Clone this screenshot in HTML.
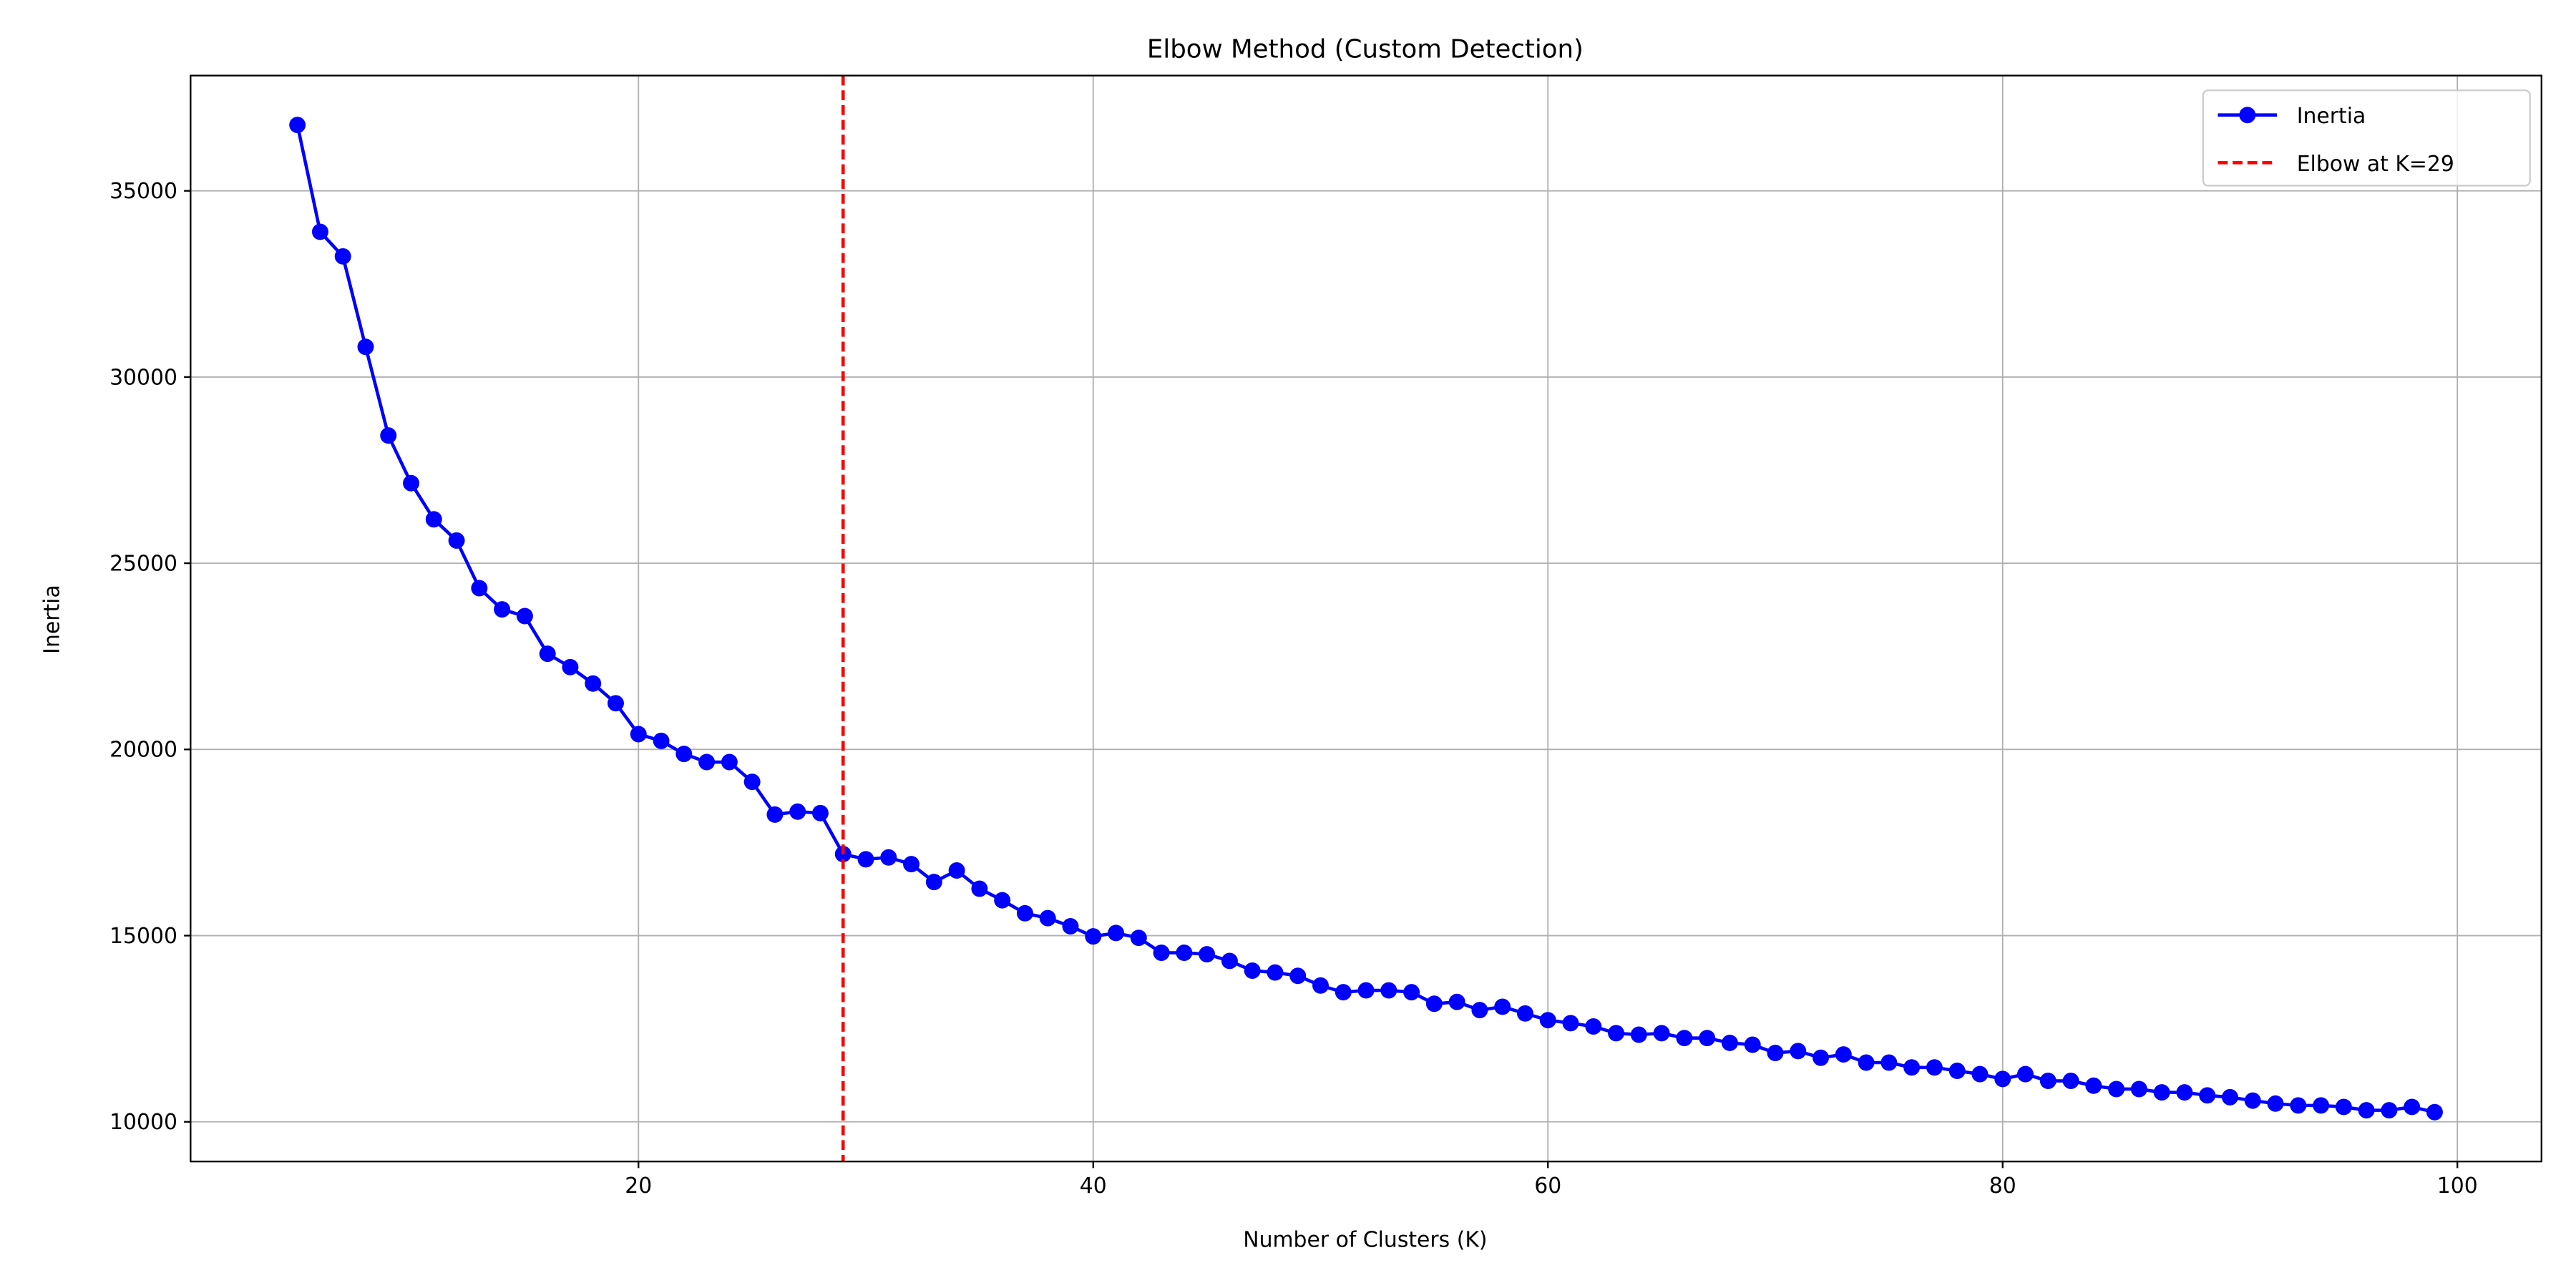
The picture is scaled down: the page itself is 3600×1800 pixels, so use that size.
<!DOCTYPE html>
<html><head><meta charset="utf-8"><style>
html,body{margin:0;padding:0;background:#fff;}
svg{display:block;font-family:"DejaVu Sans","Liberation Sans",sans-serif;}
</style></head><body>
<svg id="chart" width="3600" height="1800" viewBox="0 0 1568 784" xmlns="http://www.w3.org/2000/svg">
<rect width="1568" height="784" fill="#fff"/>
<g id="grid"></g>
<g id="series"></g>
<rect x="116" y="46" width="1431" height="661" fill="none" stroke="#000" stroke-width="1"/>
<g id="ticks"></g>
<text x="831" y="35" font-size="15.5" text-anchor="middle">Elbow Method (Custom Detection)</text>
<text x="831" y="759" font-size="13" text-anchor="middle">Number of Clusters (K)</text>
<text transform="translate(36,377) rotate(-90)" font-size="13" text-anchor="middle">Inertia</text>
<g>
<rect x="1341" y="55" width="199" height="58" rx="3" fill="#fff" fill-opacity="0.8" stroke="#ccc"/>
<g>
<line x1="1350" y1="70" x2="1386" y2="70" stroke="#0000ff" stroke-width="2"/>
<circle cx="1368" cy="70" r="5" fill="#0000ff"/>
<text x="1398" y="75" font-size="13">Inertia</text></g>
<g>
<line x1="1350" y1="99" x2="1386" y2="99" stroke="#ff0000" stroke-width="2" stroke-dasharray="6,3"/>
<text x="1398" y="104" font-size="13">Elbow at K=29</text></g>
</g>
</svg>
<script>
const kValues = [];
for (let k = 5; k <= 99; k++) kValues.push(k);
const inertia = [36770,33900,33240,30810,28430,27150,26180,25610,24330,23760,23580,22570,22210,21770,21240,20410,20230,19880,19660,19660,19130,18250,18330,18290,17190,17050,17100,16920,16440,16750,16260,15950,15600,15470,15250,14980,15070,14940,14540,14540,14500,14320,14060,14010,13920,13660,13480,13530,13530,13480,13170,13220,13000,13090,12910,12730,12650,12560,12380,12340,12380,12250,12250,12120,12070,11850,11900,11720,11810,11590,11590,11460,11460,11370,11280,11150,11280,11100,11100,10970,10880,10880,10790,10790,10710,10660,10570,10490,10440,10440,10400,10310,10310,10400,10260];
const elbowK = [29];
const xTicks = [20,40,60,80,100];
const yTicks = [10000,15000,20000,25000,30000,35000];

const NS = "http://www.w3.org/2000/svg";
const L=116,R=1547,T=46,B=707;
const xmin0=Math.min(...kValues), xmax0=Math.max(...kValues);
const ymin0=Math.min(...inertia), ymax0=Math.max(...inertia);
const xm=(xmax0-xmin0)*0.05, ym=(ymax0-ymin0)*0.05;
const xd=[xmin0-xm,xmax0+xm], yd=[ymin0-ym,ymax0+ym];
const sx=v=>L+(v-xd[0])/(xd[1]-xd[0])*(R-L);
const sy=v=>B-(v-yd[0])/(yd[1]-yd[0])*(B-T);
function mk(tag,attrs,parent){const e=document.createElementNS(NS,tag);for(const k in attrs)e.setAttribute(k,attrs[k]);parent.appendChild(e);return e;}
const grid=document.getElementById('grid'), ticks=document.getElementById('ticks'), series=document.getElementById('series');
xTicks.forEach(t=>{const x=sx(t);if(x<L||x>R)return;
 const g=mk('line',{x1:x,x2:x,y1:T,y2:B,stroke:'#b0b0b0','stroke-width':0.8},grid);
 
 
 mk('line',{x1:x,x2:x,y1:B,y2:B+4,stroke:'#000'},ticks);
 const tx=mk('text',{x:x,y:B+19,'font-size':13,'text-anchor':'middle'},ticks);tx.textContent=t;
 
 
});
yTicks.forEach(t=>{const y=sy(t);if(y<T||y>B)return;
 const g=mk('line',{x1:L,x2:R,y1:y,y2:y,stroke:'#b0b0b0','stroke-width':0.8},grid);
 
 
 mk('line',{x1:L-4,x2:L,y1:y,y2:y,stroke:'#000'},ticks);
 const tx=mk('text',{x:L-8,y:y+4.5,'font-size':13,'text-anchor':'end'},ticks);tx.textContent=t;
 
 
});
const pts=kValues.map((k,i)=>sx(k)+','+sy(inertia[i])).join(' ');
const pl=mk('polyline',{points:pts,fill:'none',stroke:'#0000ff','stroke-width':2},series);


kValues.forEach((k,i)=>{const c=mk('circle',{cx:sx(k),cy:sy(inertia[i]),r:5,fill:'#0000ff'},series);
 
 
});
elbowK.forEach(k=>{const l=mk('line',{x1:sx(k),x2:sx(k),y1:T,y2:B,stroke:'#ff0000','stroke-width':2,'stroke-dasharray':'6,3'},series);
 
 
});
</script>
</body></html>
